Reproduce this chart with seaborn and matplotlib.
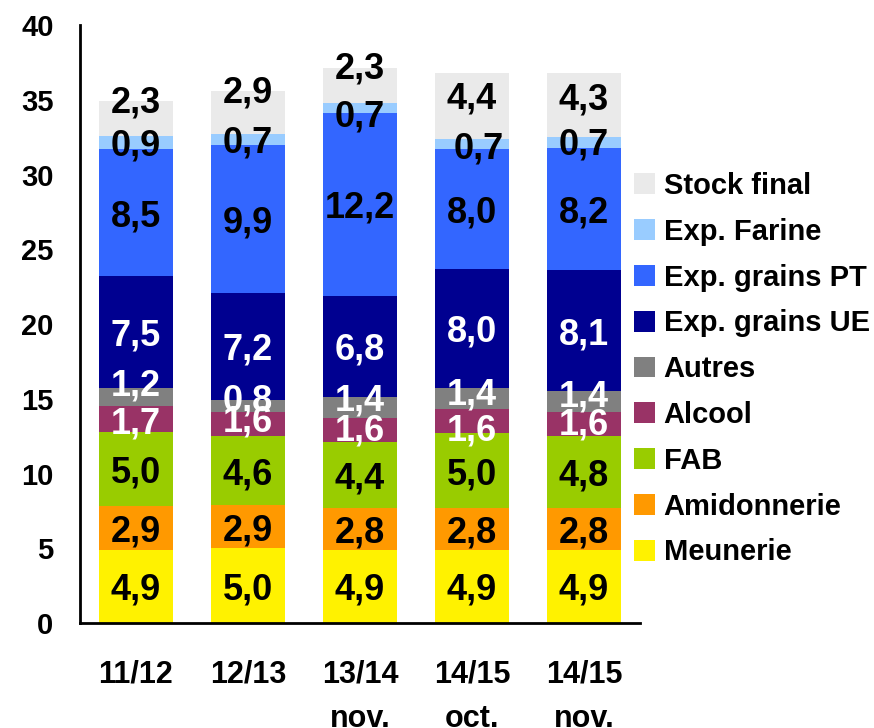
import numpy as np
import seaborn as sns
import matplotlib.pyplot as plt
from matplotlib.patches import Patch

# campaigns on the x axis
campaigns = ['11/12', '12/13', '13/14\nnov.', '14/15\noct.', '14/15\nnov.']

# stacked uses, bottom to top
series = ['Meunerie', 'Amidonnerie', 'FAB', 'Alcool', 'Autres',
          'Exp. grains UE', 'Exp. grains PT', 'Exp. Farine', 'Stock final']
meunerie = [4.9, 5.0, 4.9, 4.9, 4.9]
amidonnerie = [2.9, 2.9, 2.8, 2.8, 2.8]
fab = [5.0, 4.6, 4.4, 5.0, 4.8]
alcool = [1.7, 1.6, 1.6, 1.6, 1.6]
autres = [1.2, 0.8, 1.4, 1.4, 1.4]
exp_ue = [7.5, 7.2, 6.8, 8.0, 8.1]
exp_pt = [8.5, 9.9, 12.2, 8.0, 8.2]
exp_farine = [0.9, 0.7, 0.7, 0.7, 0.7]
stock_final = [2.3, 2.9, 2.3, 4.4, 4.3]

colors = ['#FFF200', '#FF9900', '#99CC00', '#993366', '#808080',
          '#000090', '#3366FF', '#99CCFF', '#EAEAEA']
label_colors = ['black', 'black', 'black', 'white', 'white',
                'white', 'black', 'black', 'black']
# small nudges so the labels of thin segments stay readable (data units)
label_dy = [
    [0, 0, 0, 0, 0],
    [0, 0, 0, 0, 0],
    [0, 0, 0, 0, 0],
    [-0.1, 0.4, 0.2, -0.4, 0.2],
    [1.0, 0.6, 0.7, 0.5, 0.6],
    [0, 0, 0, 0, 0],
    [0, 0, 0, 0, 0],
    [0, 0, -0.35, -0.1, 0.1],
    [1.3, 1.6, 1.4, 0.7, 0.6],
]
label_dx = [0, 0, 0, 0.06, 0]  # the 14/15 oct. "0,7" sits a bit right

values = [meunerie, amidonnerie, fab, alcool, autres,
          exp_ue, exp_pt, exp_farine, stock_final]

sns.set_style('white')
plt.rcParams['font.family'] = ['Liberation Sans', 'DejaVu Sans']
plt.rcParams['font.weight'] = 'bold'
plt.rcParams['text.color'] = 'black'
plt.rcParams['xtick.color'] = 'black'
plt.rcParams['ytick.color'] = 'black'

fig = plt.figure(figsize=(8.74, 7.28), dpi=100)
ax = fig.add_axes([80 / 874, 105 / 728, 560 / 874, 598 / 728])

x = np.arange(len(campaigns))
bottom = np.zeros(len(campaigns))
for name, vals, col in zip(series, values, colors):
    sns.barplot(x=campaigns, y=vals, bottom=bottom, color=col, saturation=1,
                width=0.66, ax=ax, edgecolor='none', linewidth=0)
    bottom = bottom + np.array(vals)

# value labels
bottom = np.zeros(len(campaigns))
for i, vals in enumerate(values):
    vals = np.array(vals)
    mid = bottom + vals / 2
    for j in range(len(campaigns)):
        dx = label_dx[j] if series[i] == 'Exp. Farine' else 0
        ax.text(x[j] + dx, mid[j] + label_dy[i][j], f'{vals[j]:.1f}'.replace('.', ','),
                ha='center', va='center_baseline', fontsize=26, fontweight='bold',
                color=label_colors[i])
    bottom = bottom + vals

ax.set_ylim(0, 40)
ax.set_xlim(-0.5, 4.5)
ax.set_yticks(range(0, 41, 5))
ax.tick_params(axis='y', direction='in', length=7, width=1.5, pad=19, labelsize=21)
ax.set_xticks(x)
ax.set_xticklabels(campaigns, fontsize=22, linespacing=1.65)
ax.set_xticks(np.arange(-0.5, 5, 1), minor=True)
ax.tick_params(axis='x', which='major', length=0, pad=26)
ax.tick_params(axis='x', which='minor', direction='in', length=7, width=1.5)
ax.set_xlabel('')
ax.set_ylabel('')
for s in ['top', 'right']:
    ax.spines[s].set_visible(False)
for s in ['left', 'bottom']:
    ax.spines[s].set_linewidth(2)
    ax.spines[s].set_color('black')

handles = [Patch(facecolor=c, edgecolor='none', label=n) for n, c in zip(series, colors)][::-1]
fig.legend(handles=handles, loc='upper left', bbox_to_anchor=(634 / 874, 1 - 172 / 728),
           frameon=False, prop={'weight': 'bold', 'size': 21},
           handlelength=0.72, handleheight=0.72, handletextpad=0.3,
           labelspacing=0.61, borderpad=0, borderaxespad=0)

fig.savefig('out.png', dpi=100)
